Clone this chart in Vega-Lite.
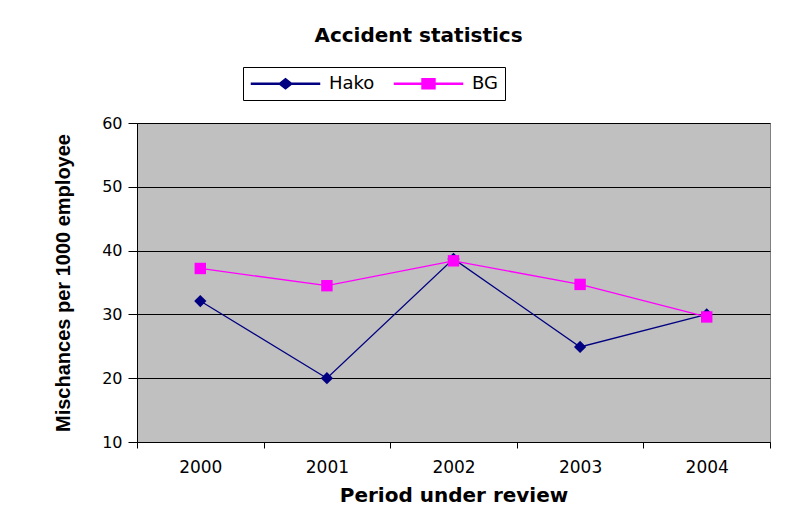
{
  "$schema": "https://vega.github.io/schema/vega-lite/v6.json",
  "width": 633,
  "height": 319,
  "autosize": {"type": "none"},
  "padding": {"left": 137, "top": 123, "right": 15, "bottom": 78},
  "background": "#ffffff",
  "title": {
    "text": "Accident statistics",
    "font": "DejaVu Sans",
    "fontSize": 20,
    "fontWeight": "bold",
    "color": "#000000",
    "anchor": "middle",
    "frame": "group",
    "baseline": "alphabetic",
    "offset": 5,
    "dx": -35
  },
  "data": {
    "values": [
      {"year": "2000", "series": "Hako", "value": 32.1},
      {"year": "2001", "series": "Hako", "value": 20.0},
      {"year": "2002", "series": "Hako", "value": 38.7},
      {"year": "2003", "series": "Hako", "value": 24.9},
      {"year": "2004", "series": "Hako", "value": 30.0},
      {"year": "2000", "series": "BG", "value": 37.2},
      {"year": "2001", "series": "BG", "value": 34.5},
      {"year": "2002", "series": "BG", "value": 38.4},
      {"year": "2003", "series": "BG", "value": 34.7},
      {"year": "2004", "series": "BG", "value": 29.6}
    ]
  },
  "encoding": {
    "x": {
      "field": "year",
      "type": "ordinal",
      "scale": {"type": "band", "paddingInner": 0, "paddingOuter": 0},
      "title": "Period under review",
      "axis": {
        "labelAngle": 0,
        "tickBand": "extent",
        "tickSize": 6,
        "tickColor": "#000000",
        "domainColor": "#000000",
        "labelFont": "DejaVu Sans",
        "labelFontSize": 17,
        "labelColor": "#000000",
        "labelPadding": 11,
        "titleFont": "DejaVu Sans",
        "titleFontSize": 20,
        "titleFontWeight": "bold",
        "titleColor": "#000000",
        "titlePadding": 10,
        "grid": false
      }
    },
    "y": {
      "field": "value",
      "type": "quantitative",
      "scale": {"domain": [10, 60], "nice": false, "zero": false},
      "title": "Mischances per 1000 employee",
      "axis": {
        "values": [10, 20, 30, 40, 50, 60],
        "tickSize": 9,
        "tickColor": "#000000",
        "domainColor": "#000000",
        "grid": true,
        "gridColor": "#000000",
        "gridOpacity": 1,
        "gridWidth": 1,
        "labelFont": "DejaVu Sans",
        "labelFontSize": 16,
        "labelColor": "#000000",
        "labelPadding": 6,
        "titleFont": "Liberation Sans",
        "titleFontSize": 20,
        "titleFontWeight": "bold",
        "titleColor": "#000000",
        "titlePadding": 28
      }
    },
    "color": {
      "field": "series",
      "type": "nominal",
      "scale": {"domain": ["Hako", "BG"], "range": ["#000080", "#FF00FF"]},
      "legend": {
        "title": null,
        "orient": "none",
        "legendX": 106,
        "legendY": -56,
        "direction": "horizontal",
        "strokeColor": "#000000",
        "fillColor": "#ffffff",
        "padding": 7,
        "symbolSize": 289,
        "symbolOffset": 26,
        "labelOffset": 34,
        "columnPadding": 16,
        "symbolOpacity": 1,
        "labelFont": "DejaVu Sans",
        "labelFontSize": 18,
        "labelColor": "#000000"
      }
    }
  },
  "layer": [
    {
      "mark": {"type": "point", "filled": true, "opacity": 0, "size": 150},
      "encoding": {
        "shape": {
          "field": "series",
          "type": "nominal",
          "scale": {"domain": ["Hako", "BG"], "range": ["M-4,-0.07H4V0.07H-4ZM-0.76,0L0,-0.6L0.76,0L0,0.6Z", "M-4,-0.07H4V0.07H-4ZM-0.76,-0.58H0.76V0.58H-0.76Z"]},
          "legend": {
            "title": null,
            "orient": "none",
            "legendX": 106,
            "legendY": -56,
            "direction": "horizontal",
            "strokeColor": "#000000",
            "fillColor": "#ffffff",
            "padding": 7,
            "symbolSize": 289,
            "symbolOffset": 26,
            "labelOffset": 34,
            "columnPadding": 16,
            "symbolOpacity": 1,
            "labelFont": "DejaVu Sans",
            "labelFontSize": 18,
            "labelColor": "#000000"
          }
        }
      }
    },
    {
      "mark": {"type": "line", "strokeWidth": 1.3}
    },
    {
      "transform": [{"filter": "datum.series === 'Hako'"}],
      "mark": {"type": "point", "shape": "diamond", "filled": true, "opacity": 1, "size": 150}
    },
    {
      "transform": [{"filter": "datum.series === 'BG'"}],
      "mark": {"type": "point", "shape": "square", "filled": true, "opacity": 1, "size": 130}
    }
  ],
  "config": {
    "view": {"fill": "#C0C0C0", "stroke": "#808080", "strokeWidth": 1}
  }
}
